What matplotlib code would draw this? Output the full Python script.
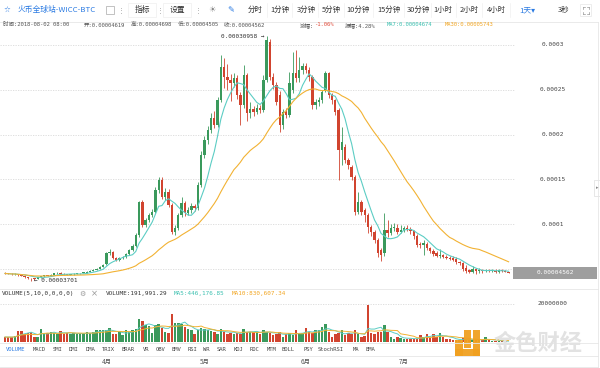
import numpy as np
import pandas as pd
import matplotlib
matplotlib.use('Agg')
from matplotlib import pyplot as plt
from matplotlib.patches import Rectangle

#Velas diarias WICC/BTC, 2018-03-01 .. 2018-08-02, precios en unidades de 1e-5
aperturas = [
    4.55, 4.50, 4.45, 4.40, 4.42, 4.30, 4.25, 4.10, 4.00, 3.95, 3.90, 4.10, 4.20, 4.30, 4.25, 4.35,
    4.50, 4.60, 4.45, 4.40, 4.35, 4.40, 4.45, 4.50, 4.55, 4.60, 4.70, 4.80, 4.90, 5.05, 5.25,
    5.55, 6.79, 6.90, 6.23, 6.00, 6.23, 6.34, 6.67, 7.12, 7.57, 8.79, 12.48, 9.91, 10.47, 11.03,
    11.36, 13.82, 14.93, 13.04, 13.59, 12.14, 9.13, 9.58, 11.03, 12.37, 11.25, 11.58, 12.03, 11.81, 14.37,
    17.72, 19.40, 20.51, 21.85, 21.07, 23.86, 27.54, 26.43, 26.10, 25.76, 26.32, 24.42, 23.30, 26.65,
    22.41, 22.86, 22.52, 22.97, 22.75, 26.10, 30.33, 26.43, 25.53, 24.42, 21.07, 22.52, 22.19, 24.98,
    26.87, 26.32, 27.21,
    27.65, 27.21, 26.43, 23.30, 23.64, 23.86, 24.98, 26.87, 24.42, 23.86, 22.75, 18.28, 18.61, 17.16,
    16.38, 15.27, 11.36, 12.48, 11.58, 11.03, 9.69, 9.13, 8.24, 7.12, 6.79, 9.35, 9.02, 9.58, 9.58, 9.13,
    9.35, 9.58, 9.46, 9.24, 8.68, 7.79, 7.68, 7.79, 7.34, 7.01, 6.79, 6.45, 6.56, 6.34, 6.23, 6.23,
    6.12, 5.78, 5.67, 5.11, 4.89, 4.66, 5.00, 4.78, 4.89, 4.78, 4.89, 4.78, 4.83, 4.66, 4.89,
    4.78, 4.62]
maximos = [
    4.62, 4.56, 4.50, 4.52, 4.48, 4.35, 4.30, 4.15, 4.05, 4.02, 4.15, 4.25, 4.38, 4.34, 4.40, 4.58,
    4.70, 4.65, 4.50, 4.45, 4.45, 4.50, 4.55, 4.60, 4.65, 4.75, 4.85, 4.95, 5.10, 5.30, 5.60,
    6.95, 7.20, 7.00, 6.35, 6.35, 6.45, 6.80, 7.25, 7.80, 9.00, 12.60, 12.70, 10.70, 11.30, 11.70,
    14.20, 15.27, 15.27, 14.00, 13.90, 12.40, 9.90, 11.30, 13.00, 12.60, 11.90, 12.40, 12.30, 14.70, 18.20,
    19.80, 21.00, 22.40, 22.60, 24.20, 28.90, 28.60, 27.90, 26.80, 26.90, 26.60, 24.80, 27.80, 26.90,
    23.60, 23.20, 23.40, 23.30, 26.60, 30.96, 30.70, 26.90, 25.90, 24.90, 22.90, 23.00, 27.00, 29.20,
    29.40, 28.70, 28.00,
    28.00, 27.50, 26.70, 24.00, 24.20, 25.00, 27.10, 27.00, 24.60, 24.00, 23.00, 20.80, 19.00, 17.40,
    16.60, 15.50, 13.60, 12.70, 11.80, 11.30, 9.90, 9.40, 8.50, 7.30, 11.25, 10.50, 10.00, 10.10, 10.00, 9.90,
    9.80, 9.90, 9.70, 9.40, 8.90, 8.00, 8.24, 8.00, 7.50, 7.20, 7.00, 7.20, 6.70, 6.60, 6.40, 6.40,
    6.30, 5.90, 5.80, 5.50, 5.00, 5.30, 5.10, 5.10, 5.00, 5.00, 5.00, 4.95, 4.95, 5.05, 5.00,
    4.85, 4.70]
minimos = [
    4.45, 4.40, 4.35, 4.36, 4.25, 4.20, 4.00, 3.90, 3.70, 3.82, 3.88, 4.05, 4.15, 4.20, 4.20, 4.30,
    4.45, 4.40, 4.35, 4.30, 4.30, 4.35, 4.40, 4.45, 4.50, 4.55, 4.65, 4.75, 4.85, 5.00, 5.20,
    5.45, 6.60, 6.10, 5.85, 5.90, 6.10, 6.25, 6.55, 7.00, 7.45, 8.60, 9.70, 9.70, 10.30, 10.85,
    11.20, 13.50, 12.80, 12.70, 11.90, 8.90, 8.80, 9.40, 10.80, 10.90, 11.00, 11.30, 11.50, 11.60, 14.10,
    17.40, 19.00, 20.20, 20.70, 20.85, 23.60, 25.20, 25.00, 23.80, 25.30, 24.00, 21.07, 23.00, 21.50,
    21.90, 22.10, 22.30, 22.40, 22.50, 25.90, 26.10, 25.10, 23.30, 20.30, 20.60, 21.80, 22.00, 24.60,
    25.90, 25.90, 26.80,
    26.90, 26.00, 22.90, 22.90, 23.20, 23.50, 24.70, 24.10, 23.40, 22.20, 14.93, 16.61, 16.80, 16.20,
    14.90, 11.00, 11.10, 11.00, 10.30, 9.00, 8.70, 7.90, 6.30, 5.90, 6.40, 8.60, 8.80, 9.20, 8.90, 9.00,
    9.10, 9.20, 8.90, 8.40, 7.40, 7.30, 6.56, 7.10, 6.80, 6.50, 6.30, 6.20, 6.20, 6.10, 6.00, 5.90,
    5.60, 5.50, 4.80, 4.60, 4.50, 4.50, 4.40, 4.60, 4.60, 4.70, 4.65, 4.70, 4.55, 4.60, 4.65,
    4.62, 4.51]
cierres = [
    4.50, 4.45, 4.40, 4.42, 4.30, 4.25, 4.10, 4.00, 3.95, 3.90, 4.10, 4.20, 4.30, 4.25, 4.35, 4.50,
    4.60, 4.45, 4.40, 4.35, 4.40, 4.45, 4.50, 4.55, 4.60, 4.70, 4.80, 4.90, 5.05, 5.25, 5.50,
    6.79, 6.90, 6.23, 6.00, 6.23, 6.34, 6.67, 7.12, 7.57, 8.79, 12.48, 9.91, 10.47, 11.03, 11.36,
    13.82, 14.93, 13.04, 13.59, 12.14, 9.13, 9.58, 11.03, 12.37, 11.25, 11.58, 12.03, 11.81, 14.37, 17.72,
    19.40, 20.51, 21.85, 21.07, 23.86, 27.54, 26.43, 26.10, 25.76, 26.32, 24.42, 23.30, 26.65, 22.41,
    22.86, 22.52, 22.97, 22.75, 26.10, 30.56, 26.43, 25.53, 23.64, 21.07, 22.52, 22.19, 25.76, 26.87,
    26.32, 27.21, 27.65,
    27.21, 26.43, 23.30, 23.64, 23.86, 24.75, 26.87, 24.42, 23.86, 22.52, 18.28, 19.17, 17.16, 16.61,
    15.27, 11.36, 12.48, 11.36, 11.03, 9.69, 9.13, 8.24, 6.79, 6.56, 9.35, 9.02, 9.58, 9.62, 9.13, 9.35,
    9.58, 9.46, 9.24, 8.68, 7.68, 7.68, 7.90, 7.34, 7.01, 6.67, 6.45, 6.56, 6.34, 6.23, 6.17, 6.00,
    5.78, 5.67, 5.00, 4.78, 4.66, 5.00, 4.78, 4.89, 4.78, 4.89, 4.78, 4.83, 4.66, 4.89, 4.78,
    4.72, 4.56]
#Volumen en millones
volumenes = [
    2.6, 2.6, 2.5, 3.0, 5.8, 5.8, 4.4, 4.7, 5.0, 2.6, 2.6, 7.0, 4.4, 4.7, 5.0, 4.7, 4.4, 5.8, 4.4, 4.7,
    4.4, 4.7, 4.4, 4.2, 4.7, 5.0, 4.7, 5.5, 6.1, 6.1, 6.1,
    6.1, 7.5, 4.4, 4.0, 5.3, 3.5, 6.1, 5.5, 6.1, 7.0, 12.3, 10.9, 8.8, 8.5, 4.7, 8.8, 9.6, 7.5, 5.3, 4.7,
    14.6, 10.0, 10.2, 9.6, 7.9, 7.0, 6.5, 4.4, 6.1, 7.5,
    7.0, 6.5, 5.8, 5.3, 4.4, 7.0, 5.3, 4.4, 4.7, 4.4, 4.7, 4.4, 7.0, 5.3, 5.3, 5.0, 5.3, 4.4, 6.1, 5.3,
    4.7, 3.5, 4.4, 5.3, 2.6, 4.4, 4.7, 3.5, 6.1, 4.0, 4.7,
    7.5, 5.3, 4.7, 6.1, 6.1, 7.9, 9.6, 5.3, 2.6, 4.4, 4.7, 6.1, 3.5, 4.7, 4.0, 6.1, 4.4, 2.6, 3.0, 19.3,
    4.7, 4.4, 5.3, 5.0, 9.2, 5.3, 2.6, 1.8, 2.6, 2.0,
    1.8, 1.8, 1.5, 1.8, 1.8, 3.5, 2.6, 4.4, 2.2, 4.4, 2.6, 4.7, 2.6, 1.8, 1.5, 1.3, 1.2, 1.0, 2.0, 1.5,
    1.3, 1.0, 1.2, 1.0, 1.2, 2.5, 0.8, 0.6, 0.5, 0.6, 0.5,
    0.4, 0.19]

niveles_precio = [5, 10, 15, 20, 25, 30]
etiquetas_precio = ["0.00005", "0.0001", "0.00015", "0.0002", "0.00025", "0.0003"]
meses = ["4月", "5月", "6月", "7月"]
inicio_mes = [31, 61, 92, 122]
botones = ["分时", "1分钟", "3分钟", "5分钟", "10分钟", "15分钟", "30分钟", "1小时", "2小时", "4小时"]
botones_x = [255, 280, 306, 331, 358, 389, 418, 443, 469, 496]
indicadores = ["VOLUME", "MACD", "SMI", "DMI", "DMA", "TRIX", "BRAR", "VR", "OBV", "EMV", "RSI", "WR",
               "SAR", "KDJ", "ROC", "MTM", "BOLL", "PSY", "StochRSI", "MA", "EMA"]
indicadores_x = [6, 33, 53, 69, 86, 102, 122, 143, 156, 172, 188, 203, 217, 234, 250, 267, 282,
                 303, 318, 353, 365]

VERDE = '#3a995c'
ROJO = '#d1442f'
TEAL = '#5ccdc4'
NARANJA = '#f2b233'
MONO = ['DejaVu Sans Mono', 'Noto Sans CJK SC']
CJK = ['Noto Sans CJK SC', 'DejaVu Sans']

o = np.array(aperturas)
h = np.array(maximos)
l = np.array(minimos)
c = np.array(cierres)
v = np.array(volumenes)
idx = np.arange(len(c))
sube = c >= o
colores = np.where(sube, VERDE, ROJO)

ma7 = pd.Series(c).rolling(7, min_periods=1).mean()
ma30 = pd.Series(c).rolling(30, min_periods=1).mean()
vma5 = pd.Series(v).rolling(5, min_periods=1).mean()
vma10 = pd.Series(v).rolling(10, min_periods=1).mean()

fig = plt.figure(figsize=(6, 3.68), dpi=100)
fig.patch.set_facecolor('white')

def ejes(x0, y0, x1, y1, **kw):
    return fig.add_axes([x0 / 600, 1 - y1 / 368, (x1 - x0) / 600, (y1 - y0) / 368], **kw)

#Grafico de velas
ax = ejes(0, 30, 515, 288)
ax.set_xlim(-1.53, 155.96)
ax.set_ylim(2.88, 31.67)
ax.axis('off')
for nivel in niveles_precio:
    ax.axhline(nivel, color='#d9d9d9', lw=0.6, ls=(0, (1.5, 1.5)), zorder=0)
ax.vlines(idx, l, h, colors=colores, lw=0.6, zorder=2)
ax.bar(idx, np.maximum(np.abs(c - o), 0.06), bottom=np.minimum(o, c), width=0.72,
       color=colores, linewidth=0, zorder=3)
ax.plot(idx, ma7, color=TEAL, lw=0.8, zorder=4)
ax.plot(idx, ma30, color=NARANJA, lw=0.8, zorder=4)
ytr = ax.get_yaxis_transform()
for nivel, txt in zip(niveles_precio, etiquetas_precio):
    ax.text(553 / 515, nivel, txt, transform=ytr, ha='center', va='center', fontsize=4.4,
            family=MONO, color='#444', clip_on=False)
ax.add_patch(Rectangle((513 / 515, c[-1] - 0.62), 84 / 515, 1.24, transform=ytr,
                       facecolor='#9e9e9e', edgecolor='none', clip_on=False, zorder=6))
ax.text(555 / 515, c[-1], "0.00004562", transform=ytr, ha='center', va='center', fontsize=4.4,
        family=MONO, color='white', clip_on=False, zorder=7)
imax = int(np.argmax(h))
imin = int(np.argmin(l))
ax.text(imax - 0.6, h[imax], "0.00030958 →", ha='right', va='center', fontsize=4.3,
        family=MONO, color='#333')
ax.text(imin + 0.8, l[imin], "← 0.00003701", ha='left', va='center', fontsize=4.3,
        family=MONO, color='#333')

#Volumen
axv = ejes(0, 296, 515, 342)
axv.set_xlim(-1.53, 155.96)
axv.set_ylim(0, 24.2)
axv.axis('off')
axv.axhline(20, color='#d9d9d9', lw=0.6, ls=(0, (1.5, 1.5)), zorder=0)
axv.bar(idx, v, width=0.75, color=colores, linewidth=0, zorder=2)
axv.plot(idx, vma5, color=TEAL, lw=0.7, zorder=3)
axv.plot(idx, vma10, color=NARANJA, lw=0.7, zorder=3)
axv.text(553 / 515, 20, "20000000", transform=axv.get_yaxis_transform(), ha='center',
         va='center', fontsize=4.4, family=MONO, color='#444', clip_on=False)
xtr = axv.get_xaxis_transform()
for mes, i in zip(meses, inicio_mes):
    axv.text(i, -0.435, mes, transform=xtr, ha='center', va='center', fontsize=4.6,
             family=CJK, color='#555', clip_on=False)

#Capa de textos y marcos de la pantalla
ov = fig.add_axes([0, 0, 1, 1], zorder=5)
ov.set_xlim(0, 600)
ov.set_ylim(368, 0)
ov.axis('off')
ov.patch.set_alpha(0)

for yy in [22, 289, 343, 356, 367]:
    ov.plot([0, 598], [yy, yy], color='#e6e6e6', lw=0.6)
ov.plot([598, 598], [22, 368], color='#e6e6e6', lw=0.6)
ov.add_patch(Rectangle((594, 180), 6, 16, facecolor='white', edgecolor='#dddddd', lw=0.5))
ov.text(597, 188, "▸", fontsize=3.5, color='#888', ha='center', va='center')

#Barra de herramientas
ov.text(7, 10, "☆", fontsize=5.5, color='#2a7ae2', ha='center', va='center', family='DejaVu Sans')
ov.text(18, 10, "火币全球站-WICC-BTC", fontsize=5.6, color='#2a7ae2', ha='left', va='center', family=CJK)
ov.add_patch(Rectangle((106, 6), 8, 8, facecolor='none', edgecolor='#aaaaaa', lw=0.5))
for xx in [121, 160, 198]:
    ov.text(xx, 10, "⋮", fontsize=5, color='#999', ha='center', va='center', family='DejaVu Sans')
for xx, txt in [(142, "指标"), (177, "设置")]:
    ov.add_patch(Rectangle((xx - 14, 3), 28, 14, facecolor='white', edgecolor='#eeeeee', lw=0.5))
    ov.text(xx, 10, txt, fontsize=5.6, color='#333', ha='center', va='center', family=CJK)
ov.text(212, 10, "☀", fontsize=6, color='#888', ha='center', va='center', family='DejaVu Sans')
ov.text(231, 10, "✎", fontsize=6, color='#2a7ae2', ha='center', va='center', family='DejaVu Sans')
for xx, txt in zip(botones_x, botones):
    ov.text(xx, 10, txt, fontsize=5.4, color='#333', ha='center', va='center', family=CJK)
for xx in [267, 292, 318, 344, 373, 404, 431, 456, 482, 510]:
    ov.plot([xx, xx], [3, 17], color='#f0f0f0', lw=0.5)
ov.text(527, 10, "1天▾", fontsize=5.6, color='#2a7ae2', ha='center', va='center', family=CJK)
ov.text(564, 10, "3秒", fontsize=5.4, color='#333', ha='center', va='center', family=CJK)
#icono de pantalla completa (cuatro esquinas)
ov.add_patch(Rectangle((580, 4), 11, 12, facecolor='white', edgecolor='#e6e6e6', lw=0.5))
for (x0, y0, dx, dy) in [(582.5, 6.5, 1, 1), (588.5, 6.5, -1, 1), (582.5, 13.5, 1, -1), (588.5, 13.5, -1, -1)]:
    ov.plot([x0, x0 + dx * 2], [y0, y0], color='#999', lw=0.5)
    ov.plot([x0, x0], [y0, y0 + dy * 2], color='#999', lw=0.5)

#Fila de informacion
info = [(3, "时间:2018-08-02 08:00", '#555'), (84, "开:0.00004619", '#555'),
        (131, "高:0.00004698", '#555'), (178, "低:0.00004505", '#555'),
        (224, "收:0.00004562", '#555'), (300, "涨幅:", '#555'), (314, "-1.06%", '#e04b3a'),
        (345, "振幅:4.28%", '#555'), (387, "MA7:0.00004674", '#3cc0b0'),
        (445, "MA30:0.00005743", '#f2a623')]
for xx, txt, col in info:
    ov.text(xx, 25, txt, fontsize=4.0, color=col, ha='left', va='center', family=MONO)

#Cabecera del volumen
cab = [(2, "VOLUME(5,10,0,0,0,0)", '#333'), (106, "VOLUME:191,991.29", '#333'),
       (174, "MA5:446,176.85", '#3cc0b0'), (232, "MA10:830,607.34", '#f2a623')]
for xx, txt, col in cab:
    ov.text(xx, 294, txt, fontsize=4.3, color=col, ha='left', va='center', family=MONO)
ov.text(82, 294, "⚙", fontsize=5, color='#999', ha='center', va='center', family='DejaVu Sans')
ov.text(94, 294, "×", fontsize=6, color='#999', ha='center', va='center', family='DejaVu Sans')

#Pestañas de indicadores
for xx, txt in zip(indicadores_x, indicadores):
    ov.text(xx, 349.5, txt, fontsize=4.0, color='#2a7ae2' if txt == "VOLUME" else '#444',
            ha='left', va='center', family='DejaVu Sans Mono')

#Marca de agua
for x0, y0, w, hh in [(455, 340, 8, 16), (464, 330, 7, 18), (473, 330, 7, 26), (455, 349, 25, 7)]:
    ov.add_patch(Rectangle((x0, y0), w, hh, facecolor='#f0a020', edgecolor='none', alpha=0.95))
ov.text(538, 343, "金色财经", fontsize=16, color='#e2e2e2', ha='center', va='center',
        family=CJK, fontweight='bold')

fig.savefig('out.png', dpi=100, facecolor='white')
